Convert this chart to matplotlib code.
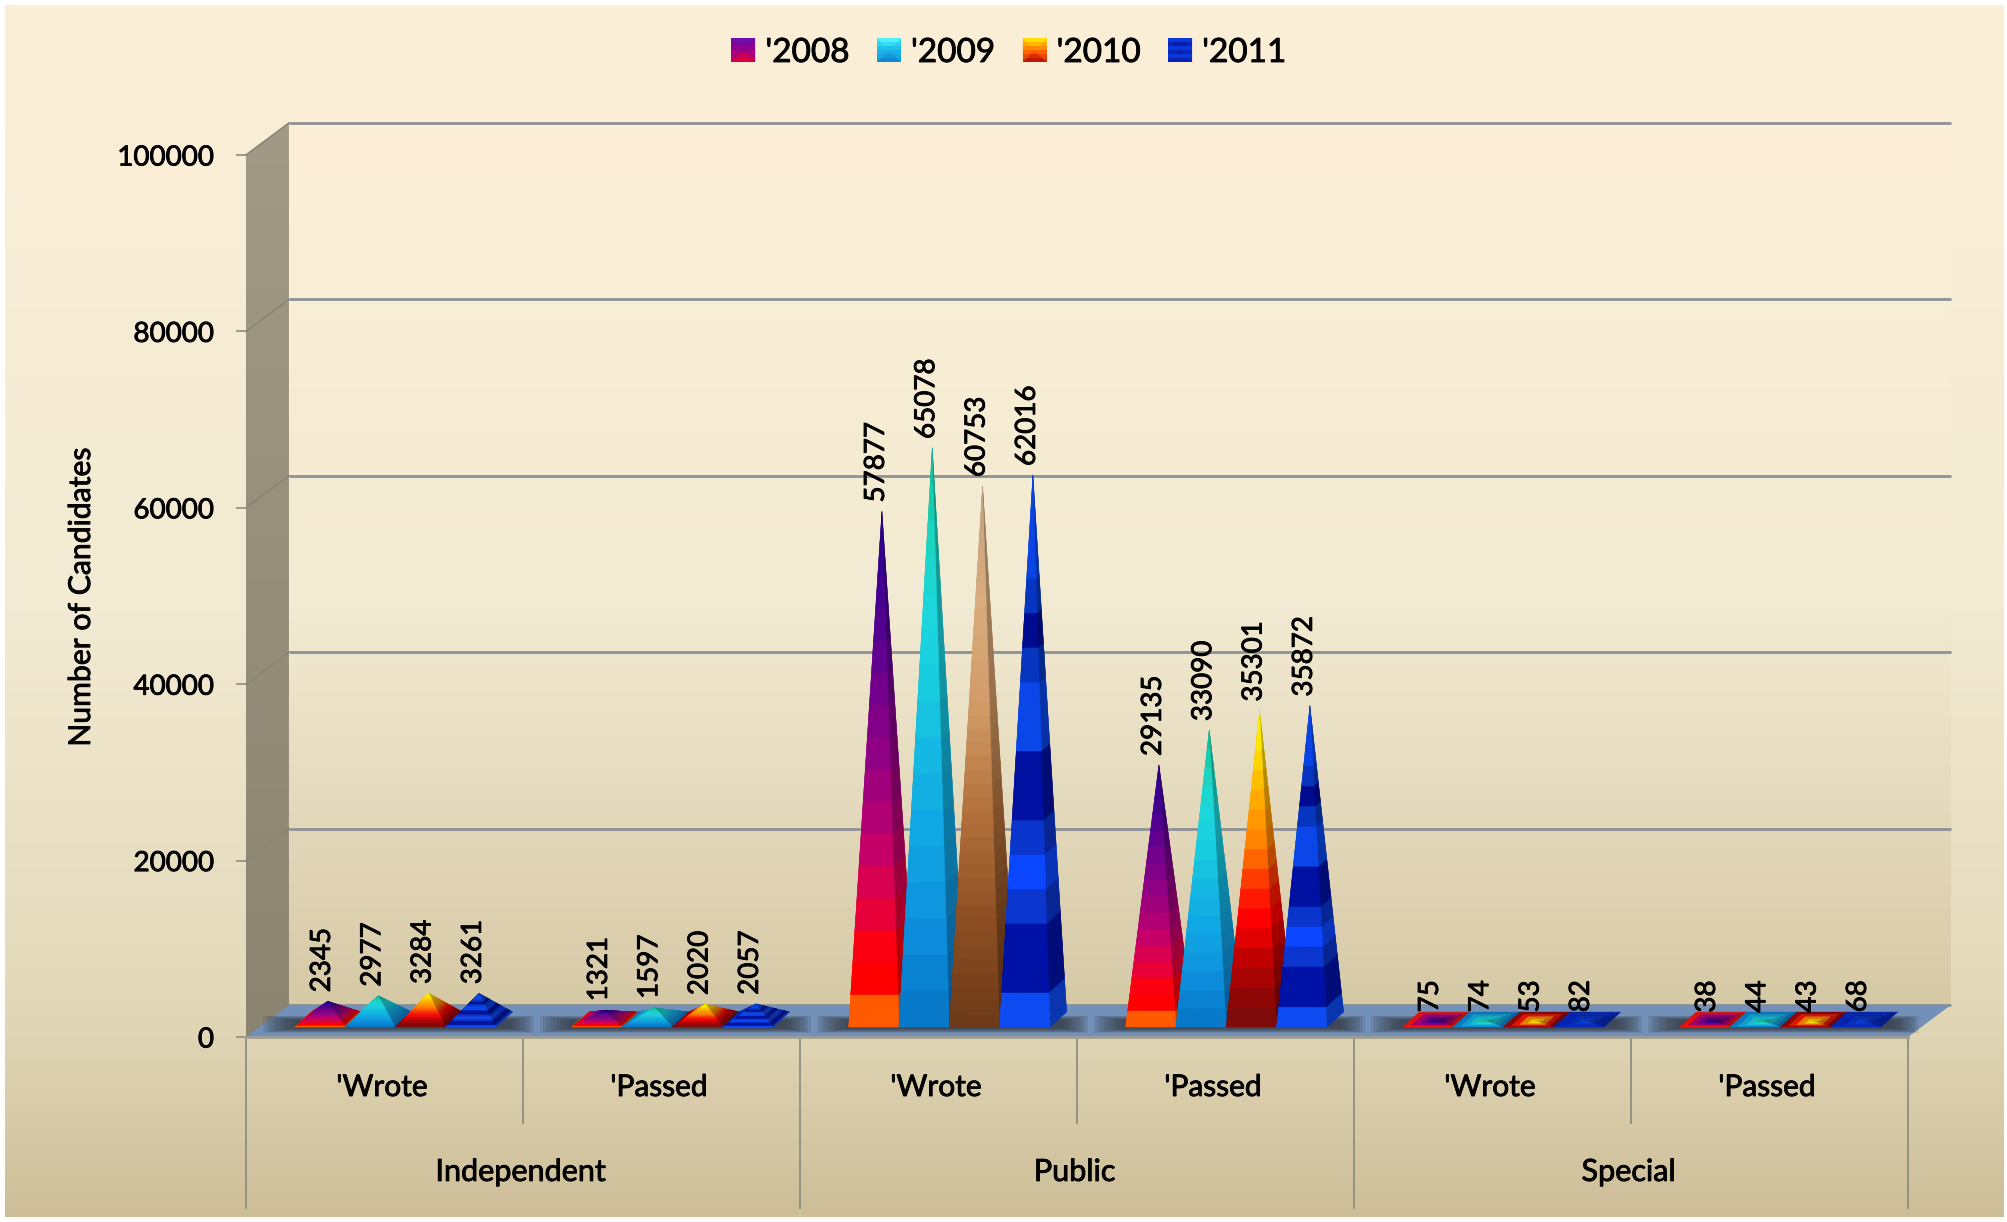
import numpy as np
import matplotlib
matplotlib.use("Agg")
import matplotlib.pyplot as plt
import matplotlib.patheffects as pe
from matplotlib.collections import PolyCollection
from matplotlib.colors import LinearSegmentedColormap
from matplotlib.legend_handler import HandlerBase
from matplotlib.patches import Polygon, Rectangle
from matplotlib.text import Text

plt.rcParams['font.family'] = ['Lato', 'DejaVu Sans']

# data
years = ["'2008", "'2009", "'2010", "'2011"]
groups = ["Independent", "Public", "Special"]
exams = ["'Wrote", "'Passed", "'Wrote", "'Passed", "'Wrote", "'Passed"]
values_2008 = [2345, 1321, 57877, 29135, 75, 38]
values_2009 = [2977, 1597, 65078, 33090, 74, 44]
values_2010 = [3284, 2020, 60753, 35301, 53, 43]
values_2011 = [3261, 2057, 62016, 35872, 82, 68]
series = [values_2008, values_2009, values_2010, values_2011]
y_ticks = [0, 20000, 40000, 60000, 80000, 100000]

# band colours of each pyramid, base to tip
bands_2008 = ['#FF5A00', '#FF0000', '#FA0010', '#E80038', '#D80050', '#C40068', '#B00074', '#A0007C',
              '#900084', '#820088', '#72008C', '#620090', '#520090', '#440090', '#380090', '#2C0088']
bands_2009 = ['#0878C8', '#0A82D2', '#0C8CDA', '#0E96DE', '#10A0E2', '#10A8E4', '#12B0E2', '#14B8E2',
              '#16C2E0', '#18CCE0', '#1CD2E0', '#1CD6DC', '#1CD6D0', '#1CD4C0', '#18CCB0', '#14C0A0']
bands_2010 = ['#7E0A0A', '#8E0606', '#A80404', '#C00000', '#E00000', '#FF0000', '#FF1800', '#FF3C00',
              '#FF6400', '#FF8400', '#FF9800', '#FFAA00', '#FFBE00', '#FFD400', '#FFE800', '#F8F000']
bands_2011 = ['#0D4AF2', '#0012A6', '#0012A6', '#0A35CE', '#0B47FF', '#0A35CC', '#0010A0', '#0010A0',
              '#0A46E8', '#0A46E8', '#0636C0', '#000C90', '#0636C0', '#0A44E4', '#0A44E4', '#0A44E4']
brown_stops = ['#6E3A18', '#8E5024', '#B4723C', '#D29C68', '#D8AC7C', '#C4A484']
all_bands = [bands_2008, bands_2009, bands_2010, bands_2011]
brown_point = (2, 2)  # the 60753 pyramid is brown in the original

# colours of the legend keys, bottom to top
key_2008 = ['#D80040', '#C8005C', '#B00078', '#900090', '#7808A0', '#6A10B0']
key_2009 = ['#1088D0', '#1498DC', '#18A8E4', '#20C0EC', '#38DCF4', '#50F0F8']
key_2010 = ['#C01808', '#E02800', '#F85000', '#FF8800', '#FFB800', '#FFE000']
key_2011 = ['#0A20B0', '#0A38D8', '#0A1CA8', '#0A38D8', '#0A1CA8', '#0A38D8']
all_keys = [key_2008, key_2009, key_2010, key_2011]

# fake 3d, in data units
depth_x = 0.155
depth_y = 3630
base_left = 0.1757
base_step = 0.1817
base_front = 1130
side_x = 0.06
side_y = 1700
side_shade = 0.72
text_shift = -0.009

fig = plt.figure(figsize=(20.08, 12.22), dpi=100)
fig.patch.set_facecolor('white')

# page background, white margin left around it
bg = fig.add_axes([0, 0, 1, 1], zorder=0)
bg.set_axis_off()
page = LinearSegmentedColormap.from_list('page', [(0, '#FCEFD8'), (0.5, '#F2EAD2'), (0.82, '#E3D9BA'), (1, '#CDBE98')])
bg.imshow(np.linspace(0, 1, 256).reshape(-1, 1), cmap=page, aspect='auto', extent=[5, 2004, 1217, 5])
bg.set_xlim(0, 2008)
bg.set_ylim(1222, 0)

ax = fig.add_axes([246 / 2008, 1 - 1037 / 1222, (1908 - 246) / 2008, 882 / 1222], zorder=1)
ax.patch.set_alpha(0)
for s in ax.spines.values():
    s.set_visible(False)

top = y_ticks[-1]

# back wall
wall = LinearSegmentedColormap.from_list('wall', [(0, '#FDEFD7'), (0.55, '#F2EAD2'), (1, '#D6C9A6')])
ax.imshow(np.linspace(0, 1, 256).reshape(-1, 1), cmap=wall, aspect='auto',
          extent=[depth_x, 6 + depth_x, depth_y, top + depth_y], clip_on=False, zorder=1)

# left wall
side = LinearSegmentedColormap.from_list('side', ['#A09A86', '#8A8470'])
im = ax.imshow(np.linspace(0, 1, 256).reshape(-1, 1), cmap=side, aspect='auto',
               extent=[0, depth_x, 0, top + depth_y], zorder=1)
im.set_clip_box(fig.bbox)
im.set_clip_path(Polygon([(0, 0), (depth_x, depth_y), (depth_x, top + depth_y), (0, top)],
                         transform=ax.transData))

# grid
for v in y_ticks:
    ax.plot([depth_x, 6 + depth_x], [v + depth_y, v + depth_y], color='#8D9196', lw=2,
            clip_on=False, zorder=2, solid_capstyle='butt')
    ax.plot([0, depth_x], [v, v + depth_y], color='#8A8676', lw=1.2, clip_on=False, zorder=2)

# floor
ax.add_patch(Polygon([(0, 0), (6, 0), (6 + depth_x, depth_y), (depth_x, depth_y)], facecolor='#7390B8',
                     edgecolor='none', clip_on=False, zorder=3))
ax.plot([0, 6], [0, 0], color='#A09E92', lw=2, clip_on=False, zorder=3)

# soft shadow under each set of four pyramids, nested see-through boxes
for i in range(6):
    for s in np.linspace(0, 1, 10):
        x0 = i + 0.06 + 0.11 * s
        x1 = i + 1.04 - 0.09 * s
        y0 = 500 + 500 * s
        y1 = 2400 - 500 * s
        ax.add_patch(Rectangle((x0, y0), x1 - x0, y1 - y0, facecolor='#30343C', edgecolor='none',
                               alpha=0.13, clip_on=False, zorder=4))

ax.set_xlim(0, 6)
ax.set_ylim(0, top)


def shade(colors, k):
    return np.array([matplotlib.colors.to_rgb(c) for c in colors]) * k


def face(p, q, apex, colors, zorder):
    # one triangular face cut in bands from edge pq up to the apex
    t = np.linspace(0, 1, len(colors) + 1)
    quads = []
    for k in range(len(colors)):
        quads.append([p + (apex - p) * t[k], q + (apex - q) * t[k],
                      q + (apex - q) * t[k + 1], p + (apex - p) * t[k + 1]])
    ax.add_collection(PolyCollection(quads, facecolors=colors, edgecolors=colors, linewidths=0.3,
                                     clip_on=False, zorder=zorder), autolim=False)


brown_cmap = LinearSegmentedColormap.from_list('brown', brown_stops)

for j, vals in enumerate(series):
    for i, val in enumerate(vals):
        if (i, j) == brown_point:
            colors = brown_cmap(np.linspace(0, 1, 40))[:, :3]
        else:
            colors = shade(all_bands[j], 1.0)
        if val < 100:
            # nearly flat, the bands merge into each other in the original
            colors = colors.reshape(4, 4, 3).mean(axis=1)
        z = 5 + i * 0.1 + j * 0.01
        left = i + base_left + j * base_step
        fl = np.array([left, base_front])
        fr = np.array([left + base_step, base_front])
        br = fr + [side_x, side_y]
        bl = fl + [side_x, side_y]
        apex = np.array([left + 0.12, base_front + 570 + val])
        # hidden faces first, they only show on the flat pyramids
        face(bl, br, apex, colors * 0.85, z)
        face(fl, bl, apex, colors * 0.9, z)
        face(fr, br, apex, colors * side_shade, z)
        face(fl, fr, apex, colors, z)
        ax.annotate(str(val), xy=apex, xytext=(-6, 9), textcoords='offset pixels', rotation=90,
                    ha='center', va='bottom', fontsize=20, color='black', zorder=20,
                    annotation_clip=False)

# two level category axis
xtr = ax.get_xaxis_transform()
for i in range(7):
    ymin = -0.194 if i % 2 == 0 else -0.0975
    ax.plot([i, i], [0, ymin], transform=xtr, color='#8F8E80', lw=1.3, clip_on=False, zorder=2)
for i, name in enumerate(exams):
    ax.text(i + 0.5 + text_shift, -0.0567, name, transform=xtr, ha='center', va='center', fontsize=21.5, color='black')
for i, name in enumerate(groups):
    ax.text(2 * i + 1 + text_shift, -0.153, name, transform=xtr, ha='center', va='center', fontsize=22, color='black')

ax.set_xticks([])
ax.set_yticks(y_ticks)
ax.set_yticklabels([str(t) for t in y_ticks], fontsize=20, color='black')
ax.tick_params(axis='y', length=7, width=1.2, color='#8F8E80', pad=16)
ax.set_ylabel("Number of Candidates", fontsize=21.7, color='black')
ax.yaxis.set_label_coords((95 - 246) / 1662, (1037 - 597) / 882)


class PyramidHandler(HandlerBase):
    # legend key: the pyramid seen from above
    def create_artists(self, legend, orig, xd, yd, w, h, fontsize, trans):
        colors = orig.key
        x0, y0 = -xd, -yd
        arts = []
        for r, c in enumerate(colors):
            arts.append(Rectangle((x0, y0 + h * r / len(colors)), w, h / len(colors) + 0.2, facecolor=c,
                                  edgecolor='none', transform=trans))
        cx, cy = x0 + w / 2, y0 + h / 2
        c = colors[len(colors) // 2]
        arts.append(Polygon([(x0, y0), (cx, cy), (x0, y0 + h)], facecolor=c, alpha=0.4, edgecolor='none', transform=trans))
        arts.append(Polygon([(x0 + w, y0), (cx, cy), (x0 + w, y0 + h)], facecolor=c, alpha=0.4, edgecolor='none', transform=trans))
        return arts


handles = []
for j, year in enumerate(years):
    h = Rectangle((0, 0), 1, 1, label=year)
    h.key = all_keys[j]
    handles.append(h)
leg = fig.legend(handles=handles, ncols=4, loc='center', bbox_to_anchor=(1009 / 2008, 1 - 53 / 1222),
                 frameon=False, fontsize=24, handlelength=0.72, handleheight=0.72, handletextpad=0.3,
                 columnspacing=0.82, handler_map={Rectangle: PyramidHandler()})

# the original text reads a little heavier than regular
for t in fig.findobj(Text):
    t.set_path_effects([pe.withStroke(linewidth=0.6, foreground='black')])

fig.savefig('out.png', dpi=100)
